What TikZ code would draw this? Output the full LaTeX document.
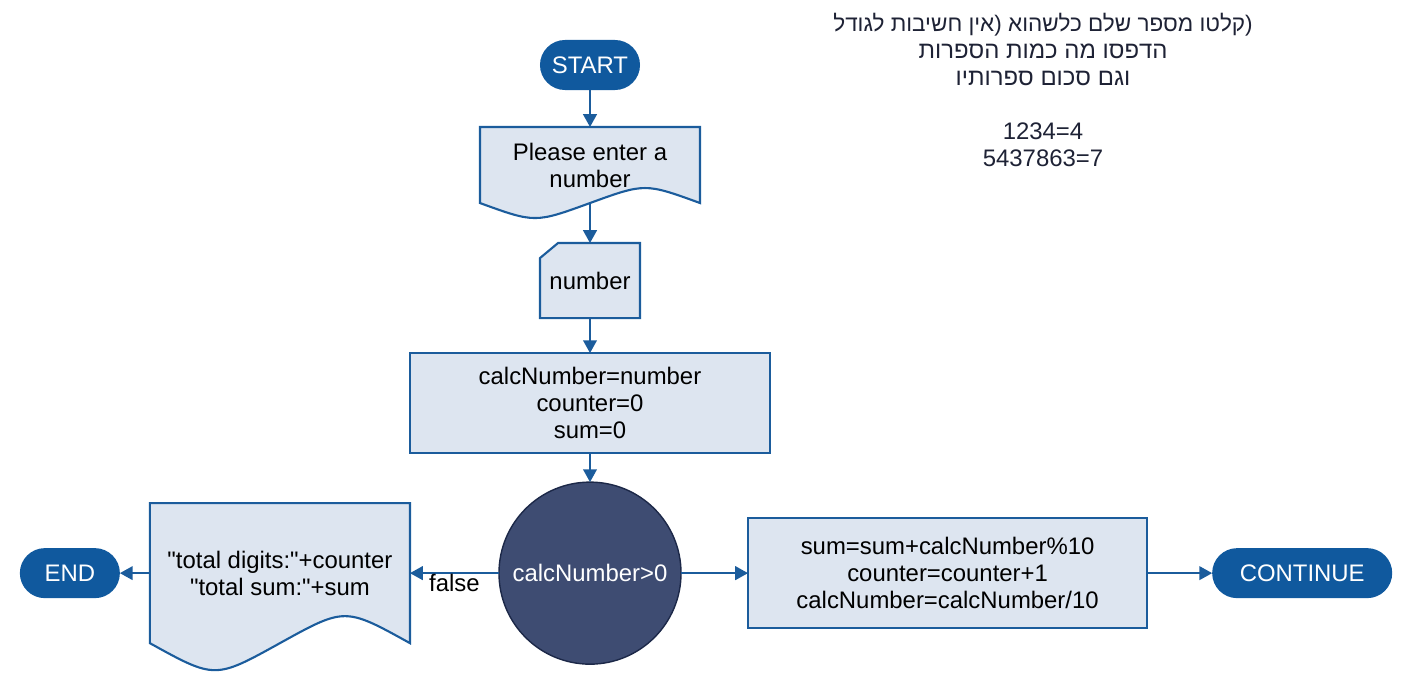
\documentclass[tikz,border=0pt]{standalone}
\usepackage{fontspec}
\newfontfamily\chartfont{Liberation Sans}
\newfontfamily\hebfont[Script=Hebrew]{Liberation Sans}
\TeXXeTstate=1
\usetikzlibrary{positioning,arrows.meta,backgrounds}

\definecolor{termblue}{HTML}{10599E}
\definecolor{lineblue}{HTML}{1B5C9C}
\definecolor{boxfill}{HTML}{DDE5F0}
\definecolor{decfill}{HTML}{3E4C72}
\definecolor{decline}{HTML}{1C2848}
\definecolor{notetext}{HTML}{1E2235}

\begin{document}
\begin{tikzpicture}[
  x=0.025cm, y=-0.025cm,
  font=\chartfont\fontsize{17}{19.2}\selectfont,
  every node/.style={outer sep=0pt},
  term/.style={fill=termblue,text=white,rounded corners=0.625cm,minimum height=1.25cm,minimum width=2.5cm,inner sep=0pt},
  procbox/.style={draw=lineblue,line width=1.5pt,fill=boxfill,align=center,inner sep=0pt},
  iobox/.style={align=center,inner sep=0pt},
  ioline/.style={draw=lineblue,line width=1.5pt,fill=boxfill},
  decision/.style={circle,draw=decline,line width=1pt,fill=decfill,text=white,minimum size=4.55cm,inner sep=0pt},
  flow/.style={draw=lineblue,line width=1.5pt,-{Triangle[length=0.32cm,width=0.34cm]}}
]
\useasboundingbox (0,0) rectangle (1412,683);

\node[term] (start) at (590,65) {START};
\node[iobox,minimum width=5.5cm,minimum height=1.9cm,below=0.925cm of start] (prompt) {Please enter a\\number};
\node[iobox,minimum width=2.5cm,minimum height=1.875cm,below=1cm of prompt] (readnum) {number};
\node[procbox,minimum width=9cm,minimum height=2.5cm,below=0.875cm of readnum] (init) {calcNumber=number\\counter=0\\sum=0};
\node[decision,below=0.725cm of init] (check) {calcNumber>0};
\node[procbox,minimum width=9.975cm,minimum height=2.75cm,right=1.675cm of check] (loop) {sum=sum+calcNumber\%10\\counter=counter+1\\calcNumber=calcNumber/10};
\node[term,minimum width=4.5cm,right=1.625cm of loop] (cont) {CONTINUE};
\node[iobox,minimum width=6.5cm,minimum height=3.5cm,left=2.225cm of check] (result) {"total digits:"+counter\\"total sum:"+sum};
\node[term,left=0.75cm of result] (end) {END};

% task note
\node[text=notetext,align=center] (note) at (1043,89.5) {\hebfont\fontsize{16}{19.2}\selectfont
  \beginR אין חשיבות לגודל\endR( \beginR קלטו מספר שלם כלשהוא\endR(\\
  \beginR הדפסו מה כמות הספרות\endR\\
  \beginR וגם סכום ספרותיו\endR\\[19.2pt]
  \fontsize{17}{19.2}\selectfont 1234=4\\
  5437863=7};

% document and manual input outlines
\begin{scope}[on background layer]
\path[ioline] (prompt.south west) -- (prompt.north west) -- (prompt.north east) -- (prompt.south east)
  .. controls ([shift={(-55,-20)}]prompt.south east) .. (prompt.south)
  .. controls ([shift={(-55,20)}]prompt.south) .. (prompt.south west) -- cycle;
\path[ioline] (readnum.south west) -- ([yshift=-0.375cm]readnum.north west) -- ([xshift=0.45cm]readnum.north west)
  -- (readnum.north east) -- (readnum.south east) -- cycle;
\path[ioline] (result.south west) -- (result.north west) -- (result.north east) -- (result.south east)
  .. controls ([shift={(-65,-36)}]result.south east) .. (result.south)
  .. controls ([shift={(-65,36)}]result.south) .. (result.south west) -- cycle;
\end{scope}

\draw[flow] (start) -- (prompt);
\draw[flow] (prompt) -- (readnum);
\draw[flow] (readnum) -- (init);
\draw[flow] (init) -- (check);
\draw[flow] (check) -- (loop);
\draw[flow] (loop) -- (cont);
\draw[flow] (check) -- node[below,inner sep=1pt] {false} (result);
\draw[flow] (result) -- (end);
\end{tikzpicture}
\end{document}
